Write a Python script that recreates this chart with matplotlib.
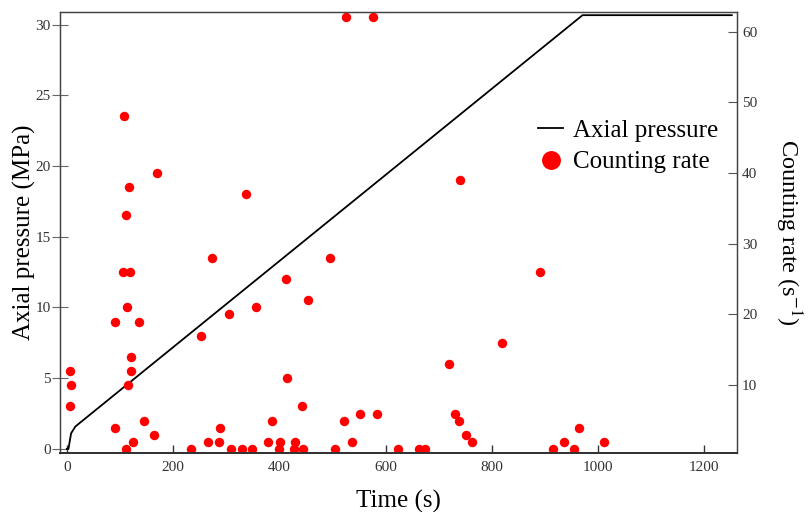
import numpy as np
import matplotlib
matplotlib.use("Agg")
import matplotlib.pyplot as plt

plt.rcParams['font.family'] = ['Liberation Serif', 'DejaVu Serif']
plt.rcParams['mathtext.fontset'] = 'stix'

# axial loading curve (MPa vs s)
load_time = [0, 3, 8, 16, 971, 1252]
load_pressure = [0.0, 0.0, 1.1, 1.58, 30.66, 30.66]

# acoustic emission counting rate events (s^-1)
event_time = [6, 7.5, 6, 91, 90, 105, 107, 110.5, 111, 114, 115, 117, 118.6,
              120, 120, 125, 136, 145, 165, 169, 234, 253, 266, 273.5, 287,
              288.7, 305.6, 309, 329, 338, 349.5, 357, 378, 386, 399, 401,
              413, 414, 427, 429, 443, 445, 455, 496, 504, 522, 526, 537,
              551.5, 576, 583.6, 624, 663, 674, 720, 731.6, 738, 740, 752,
              763, 819.5, 890, 915, 936, 954, 963.7, 1012]
event_rate = [12, 10, 7, 19, 4, 26, 48, 34, 1, 21, 10, 38, 26,
              14, 12, 2, 19, 5, 3, 40, 1, 17, 2, 28, 2,
              4, 20, 1, 1, 37, 1, 21, 2, 5, 1, 2,
              25, 11, 1, 2, 7, 1, 22, 28, 1, 5, 62, 2,
              6, 62, 6, 1, 1, 1, 13, 6, 5, 39, 3,
              2, 16, 26, 1, 2, 1, 4, 2]

x_ticks = [0, 200, 400, 600, 800, 1000, 1200]
left_ticks = [0, 5, 10, 15, 20, 25, 30]
right_ticks = [10, 20, 30, 40, 50, 60]

fig = plt.figure(figsize=(8.1, 5.12), dpi=100)
ax = fig.add_axes([0.074, 0.115, 0.836, 0.862])
ax2 = ax.twinx()

line, = ax.plot(load_time, load_pressure, color='black', lw=1.3,
                label='Axial pressure', zorder=3)
pts, = ax2.plot(event_time, event_rate, 'o', color='#ff0000', ms=6.8,
                mec='none', label='Counting rate', zorder=2)

ax.set_xlim(-13, 1262)
ax.set_ylim(-0.3, 30.9)
ax2.set_ylim(0.4, 62.8)

ax.set_xticks(x_ticks)
ax.set_yticks(left_ticks)
ax2.set_yticks(right_ticks)

tick_col = '#333333'
ax.tick_params(axis='x', direction='in', length=6, width=1.0, pad=6,
               labelsize=11, labelcolor=tick_col, color='#333333', top=False)
ax.tick_params(axis='y', direction='inout', length=11, width=0.8, pad=1,
               labelsize=11, labelcolor=tick_col, color='#666666')
ax2.tick_params(axis='y', direction='in', length=6.5, width=0.8, pad=3.5,
                labelsize=11, labelcolor=tick_col, color='#555555')

for a in (ax, ax2):
    for side in ('left', 'right', 'top'):
        a.spines[side].set_linewidth(0.9)
        a.spines[side].set_color('#444444')
    a.spines['bottom'].set_linewidth(1.4)
    a.spines['bottom'].set_color('#333333')

ax.set_xlabel('Time (s)', fontsize=18, labelpad=11)
ax.set_ylabel('Axial pressure (MPa)', fontsize=18, labelpad=0)
ax2.set_ylabel(r'Counting rate (s$^{-1}$)', fontsize=17.5, rotation=270,
               labelpad=33)

ax2.legend([line, pts], ['Axial pressure', 'Counting rate'],
           loc='center left', bbox_to_anchor=(0.688, 0.695), frameon=False,
           fontsize=18, handlelength=1.0, handletextpad=0.4,
           markerscale=2.0, labelspacing=0.35, borderpad=0)

fig.savefig('out.png', dpi=100)
